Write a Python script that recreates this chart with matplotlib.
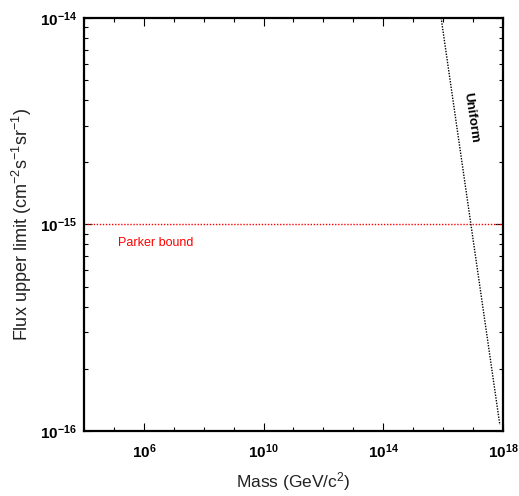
import matplotlib.pyplot as plt
import matplotlib.ticker as mticker
import numpy as np

plt.rcParams['font.family'] = ['Liberation Sans', 'DejaVu Sans']
plt.rcParams['mathtext.fontset'] = 'custom'
plt.rcParams['mathtext.rm'] = 'Liberation Sans'
plt.rcParams['mathtext.it'] = 'Liberation Sans:italic'
plt.rcParams['mathtext.bf'] = 'Liberation Sans:bold'

# Flux limit for uniformly distributed monopoles
mass_uniform = [8.6e15, 7.9e17]
flux_uniform = [1.0e-14, 1.07e-16]

# Parker bound
parker_flux = 1.0e-15

x_range = (1e4, 1e18)
y_range = (1e-16, 1e-14)


def pow10(v, pos):
    return r'$\mathbf{10^{%d}}$' % int(round(np.log10(v)))


fig = plt.figure(figsize=(5.19, 4.96), dpi=100)
ax = fig.add_axes([0.162, 0.131, 0.807, 0.833])

ax.set_xscale('log')
ax.set_yscale('log')
ax.set_xlim(*x_range)
ax.set_ylim(*y_range)

ax.plot(x_range, [parker_flux, parker_flux], color='red', linestyle=(0, (1, 1.2)), linewidth=1.0)
ax.plot(mass_uniform, flux_uniform, color='black', linestyle=(0, (1, 1)), linewidth=1.0)

ax.text(1.4e5, 8.1e-16, 'Parker bound', color='red', fontsize=9, va='center', ha='left')
ax.text(8.5e16, 3.3e-15, 'Uniform', color='black', fontsize=9.5, fontweight='bold',
        rotation=-81.6, ha='center', va='center', rotation_mode='anchor')

ax.xaxis.set_major_locator(mticker.FixedLocator([1e6, 1e10, 1e14, 1e18]))
ax.xaxis.set_minor_locator(mticker.FixedLocator([10.0 ** k for k in range(4, 19)]))
ax.xaxis.set_major_formatter(mticker.FuncFormatter(pow10))
ax.xaxis.set_minor_formatter(mticker.NullFormatter())
ax.yaxis.set_major_locator(mticker.LogLocator(base=10, numticks=10))
ax.yaxis.set_minor_locator(mticker.LogLocator(base=10, subs=np.arange(2, 10), numticks=10))
ax.yaxis.set_major_formatter(mticker.FuncFormatter(pow10))
ax.yaxis.set_minor_formatter(mticker.NullFormatter())

ax.tick_params(which='both', direction='in', top=True, right=True, labelsize=11)
ax.tick_params(which='major', length=6, width=0.8)
ax.tick_params(which='minor', length=3, width=0.8)
ax.tick_params(axis='x', which='major', pad=8)
ax.tick_params(axis='y', which='major', pad=5)
for s in ax.spines.values():
    s.set_linewidth(1.6)

ax.set_xlabel('Mass (GeV/c$^{2}$)', fontsize=12.5, labelpad=7, color='#222222')
ax.set_ylabel('Flux upper limit (cm$^{-2}$s$^{-1}$sr$^{-1}$)', fontsize=13,
              labelpad=4, color='#222222')

fig.savefig('out.png', dpi=100)
